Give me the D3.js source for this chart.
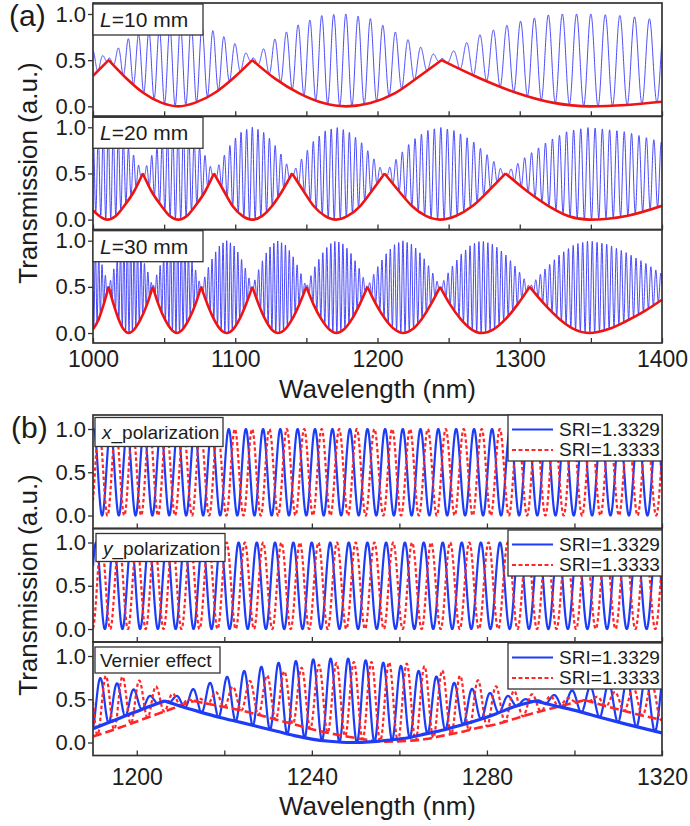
<!DOCTYPE html>
<html>
<head>
<meta charset="utf-8">
<script src="https://cdn.jsdelivr.net/npm/d3@7"></script>
<style>
  html, body { margin: 0; padding: 0; background: #fff; }
  svg { display: block; font-family: Arial, "Liberation Sans", sans-serif; }
</style>
</head>
<body>
<div id="chart"></div>
<script>
// ---------- data ----------
// (a) envelope knots: [wavelength nm, lower envelope, upper envelope]
const envL10 = [
  [1000, 0.33, 0.60], [1011, 0.50, 0.52], [1023, 0.31, 0.72], [1035, 0.15, 0.80],
  [1048, 0.04, 0.84], [1060, 0.00, 0.87], [1072, 0.04, 0.89], [1086, 0.15, 0.81],
  [1099, 0.31, 0.69], [1112, 0.50, 0.52], [1128, 0.30, 0.73], [1145, 0.14, 0.89],
  [1162, 0.035, 0.99], [1178, 0.00, 1.00], [1195, 0.035, 0.95], [1212, 0.14, 0.81],
  [1228, 0.31, 0.66], [1245, 0.50, 0.52], [1271, 0.31, 0.77], [1297, 0.15, 0.91],
  [1323, 0.04, 1.00], [1350, 0.00, 1.00], [1375, 0.015, 0.98], [1400, 0.05, 0.93]
];
const cuspsL10 = [1011, 1112, 1245];

const envL20 = [
  [1000, 0.10, 0.88], [1010, 0.00, 0.97], [1016, 0.04, 0.94], [1022, 0.15, 0.84],
  [1029, 0.31, 0.69], [1035, 0.50, 0.50], [1041, 0.31, 0.69], [1048, 0.15, 0.84],
  [1054, 0.04, 0.93], [1060, 0.00, 0.96], [1066, 0.04, 0.95], [1072, 0.15, 0.85],
  [1079, 0.31, 0.69], [1085, 0.50, 0.50], [1092, 0.31, 0.69], [1098, 0.15, 0.85],
  [1105, 0.04, 0.96], [1112, 0.00, 1.00], [1119, 0.04, 0.96], [1126, 0.15, 0.85],
  [1133, 0.31, 0.69], [1140, 0.50, 0.50], [1148, 0.31, 0.69], [1155, 0.15, 0.85],
  [1163, 0.04, 0.96], [1171, 0.00, 1.00], [1179, 0.04, 0.96], [1188, 0.15, 0.85],
  [1196, 0.31, 0.69], [1205, 0.50, 0.50], [1215, 0.31, 0.69], [1224, 0.15, 0.85],
  [1234, 0.04, 0.96], [1244, 0.00, 1.00], [1255, 0.04, 0.96], [1267, 0.15, 0.85],
  [1278, 0.31, 0.69], [1290, 0.50, 0.50], [1305, 0.31, 0.69], [1320, 0.15, 0.85],
  [1334, 0.04, 0.96], [1349, 0.00, 1.00], [1375, 0.04, 0.95], [1400, 0.15, 0.84]
];
const cuspsL20 = [1035, 1085, 1140, 1205, 1290];

const envL30 = [
  [1000, 0.04, 0.95], [1004, 0.15, 0.85], [1007.5, 0.31, 0.69], [1011, 0.50, 0.50],
  [1014.5, 0.31, 0.69], [1018, 0.15, 0.85], [1021.5, 0.04, 0.96], [1025, 0.00, 1.00],
  [1029, 0.04, 0.96], [1033.5, 0.15, 0.85], [1038, 0.31, 0.69], [1042, 0.50, 0.50],
  [1046, 0.31, 0.69], [1050.5, 0.15, 0.85], [1055, 0.04, 0.96], [1059, 0.00, 1.00],
  [1063, 0.04, 0.96], [1067.5, 0.15, 0.85], [1072, 0.31, 0.69], [1076, 0.50, 0.50],
  [1080.5, 0.31, 0.69], [1085, 0.15, 0.85], [1089.5, 0.04, 0.96], [1094, 0.00, 1.00],
  [1098.5, 0.04, 0.96], [1103, 0.15, 0.85], [1107.5, 0.31, 0.69], [1112, 0.50, 0.50],
  [1116.5, 0.31, 0.69], [1121, 0.15, 0.85], [1125.5, 0.04, 0.96], [1130, 0.00, 1.00],
  [1135, 0.04, 0.96], [1140, 0.15, 0.85], [1145, 0.31, 0.69], [1150, 0.50, 0.50],
  [1155, 0.31, 0.69], [1160.5, 0.15, 0.85], [1166, 0.04, 0.96], [1171, 0.00, 1.00],
  [1176.5, 0.04, 0.96], [1182, 0.15, 0.85], [1187.5, 0.31, 0.69], [1193, 0.50, 0.50],
  [1199, 0.31, 0.69], [1205.5, 0.15, 0.85], [1212, 0.04, 0.96], [1218, 0.00, 1.00],
  [1224.5, 0.04, 0.96], [1231, 0.15, 0.85], [1237.5, 0.31, 0.69], [1244, 0.50, 0.50],
  [1251, 0.31, 0.69], [1258.5, 0.15, 0.85], [1266, 0.04, 0.96], [1273, 0.00, 1.00],
  [1281.5, 0.04, 0.96], [1290, 0.15, 0.85], [1298.5, 0.31, 0.69], [1307, 0.50, 0.50],
  [1317.5, 0.31, 0.69], [1328, 0.15, 0.85], [1338.5, 0.04, 0.96], [1349, 0.00, 1.00],
  [1362, 0.04, 0.96], [1375, 0.13, 0.87], [1388, 0.24, 0.76], [1400, 0.36, 0.64]
];
const cuspsL30 = [1011, 1042, 1076, 1112, 1150, 1193, 1244, 1307];

// fringe period (nm) at 1000 and 1400 nm, and one fringe maximum
const periodL10 = [6.95, 10.56], peakL10 = 1024.8;
const periodL20 = [3.48, 5.28], peakL20 = 1112;
const periodL30 = [2.32, 3.52], peakL30 = 1094;
const lengthLabels = ["10", "20", "30"];

// (b) fringe period (nm) at 1190 and 1320 nm, and one fringe maximum
const envPol = [[1190, 0, 1], [1320, 0, 1]];
const periodX = [3.8, 4.25], peakX = 1248.7;
const periodY = [4.0, 4.55], peakY = 1244.2;
const redShift = [1.2, 2.0];            // SRI=1.3333 fringe shift (nm) at 1190 and 1320
const sriLabels = ["SRI=1.3329", "SRI=1.3333"];

// Vernier: [wavelength nm, lower envelope, upper envelope]
const envVernBlue = [
  [1190, 0.16, 0.77], [1194, 0.24, 0.71], [1198, 0.32, 0.64], [1202, 0.40, 0.56],
  [1206.4, 0.48, 0.48], [1210, 0.42, 0.56], [1214, 0.36, 0.64], [1219, 0.29, 0.73],
  [1224, 0.23, 0.82], [1228, 0.18, 0.87], [1232, 0.13, 0.92], [1236, 0.08, 0.94],
  [1240, 0.04, 0.96], [1244, 0.015, 0.97], [1249, 0.00, 0.97], [1254, 0.01, 0.94],
  [1258, 0.03, 0.91], [1262, 0.055, 0.87], [1266, 0.10, 0.80], [1270, 0.145, 0.74],
  [1274, 0.20, 0.66], [1278, 0.26, 0.60], [1282, 0.33, 0.56], [1286, 0.41, 0.53],
  [1291, 0.48, 0.48], [1296, 0.42, 0.56], [1301, 0.36, 0.62], [1306, 0.29, 0.67],
  [1312, 0.21, 0.73], [1320, 0.11, 0.78]
];
const cuspsVernBlue = [1206.4, 1291];
const envVernRed = [
  [1190, 0.07, 0.77], [1196, 0.17, 0.77], [1202, 0.28, 0.70], [1208, 0.39, 0.57],
  [1213, 0.48, 0.48], [1218, 0.43, 0.58], [1224, 0.37, 0.68], [1230, 0.29, 0.78],
  [1236, 0.21, 0.85], [1242, 0.13, 0.90], [1248, 0.07, 0.93], [1253, 0.03, 0.93],
  [1257, 0.01, 0.93], [1262, 0.02, 0.91], [1266, 0.04, 0.88], [1270, 0.08, 0.83],
  [1274, 0.12, 0.77], [1278, 0.17, 0.72], [1282, 0.21, 0.65], [1286, 0.27, 0.60],
  [1290, 0.33, 0.56], [1296, 0.41, 0.53], [1302.4, 0.49, 0.49], [1308, 0.41, 0.57],
  [1314, 0.33, 0.64], [1320, 0.26, 0.70]
];
const cuspsVernRed = [1213, 1302.4];
const periodVern = [3.8, 4.25], peakVernBlue = 1244.3, peakVernRed = 1245.6;

// ticks
const aTicks = [1000, 1050, 1100, 1150, 1200, 1250, 1300, 1350, 1400];
const aTickLabels = [1000, 1100, 1200, 1300, 1400];
const bTicks = [1200, 1220, 1240, 1260, 1280, 1300, 1320];
const bTickLabels = [1200, 1240, 1280, 1320];
const yTicks = [0, 0.5, 1.0];

// ---------- drawing ----------
const W = 690, H = 826, X0 = 93, X1 = 662;
const ink = "#1c1c1c", frameCol = "#333";
const blueA = "#4040fb", redA = "#ee1414";
const blueB = "#1e3cf5", redB = "#ff2626";

const svg = d3.select("#chart").append("svg").attr("width", W).attr("height", H);
const defs = svg.append("defs");

const xA = d3.scaleLinear().domain([1000, 1400]).range([X0, X1]);
const xB = d3.scaleLinear().domain([1190, 1320]).range([X0, X1]);
const wlA = d3.range(4001).map(i => 1000 + i * 0.1);
const wlB = d3.range(3251).map(i => 1190 + i * 0.04);

// cumulative fringe count along the wavelength axis
function cycleScale(wl, period) {
  const P = d3.scaleLinear().domain([wl[0], wl[wl.length - 1]]).range(period);
  const cyc = [0];
  for (let i = 1; i < wl.length; i++) {
    cyc.push(cyc[i - 1] + (wl[i] - wl[i - 1]) / P((wl[i] + wl[i - 1]) / 2));
  }
  return d3.scaleLinear().domain(wl).range(cyc);
}

// fast fringes running between the lower and upper envelopes
function fringeCurve(wl, env, period, peak, cusps, shift) {
  const cyc = cycleScale(wl, period);
  const lo = d3.scaleLinear().domain(env.map(d => d[0])).range(env.map(d => d[1]));
  const hi = d3.scaleLinear().domain(env.map(d => d[0])).range(env.map(d => d[2]));
  const sh = shift ? d3.scaleLinear().domain([wl[0], wl[wl.length - 1]]).range(shift) : () => 0;
  const c0 = cyc(peak);
  return wl.map(w => {
    const u = w - sh(w);
    const flips = cusps.filter(c => (c - peak) * (c - u) < 0).length;
    const ph = 2 * Math.PI * (cyc(u) - c0) + Math.PI * flips;
    const l = lo(w), h = hi(w);
    return [w, l + (h - l) * (1 + Math.cos(ph)) / 2];
  });
}

let clipCount = 0;
function makePanel(top, h, x, yDom) {
  const y = d3.scaleLinear().domain(yDom).range([top + h, top]);
  const id = "clip" + (clipCount++);
  defs.append("clipPath").attr("id", id).append("rect")
    .attr("x", X0).attr("y", top).attr("width", X1 - X0).attr("height", h);
  const plot = svg.append("g").attr("clip-path", `url(#${id})`);
  return { top, h, x, y, plot };
}

function drawLine(p, data, color, width, dash) {
  p.plot.append("path").datum(data)
    .attr("fill", "none").attr("stroke", color).attr("stroke-width", width)
    .attr("stroke-dasharray", dash || null).attr("stroke-linejoin", "round")
    .attr("d", d3.line().x(d => p.x(d[0])).y(d => p.y(d[1])));
}

// envelope drawn arch by arch so the cusps stay sharp
function drawEnvelope(p, env, cusps, color, width, dash) {
  const bounds = [env[0][0], ...cusps, env[env.length - 1][0]];
  const segs = d3.pairs(bounds).map(([a, b]) => env.filter(d => d[0] >= a && d[0] <= b));
  const line = d3.line().x(d => p.x(d[0])).y(d => p.y(d[1])).curve(d3.curveMonotoneX);
  p.plot.selectAll(null).data(segs).join("path")
    .attr("fill", "none").attr("stroke", color).attr("stroke-width", width)
    .attr("stroke-dasharray", dash || null).attr("stroke-linecap", "butt")
    .attr("d", line);
}

function axes(p, ticks, labels, pad) {
  const gx = svg.append("g").attr("transform", `translate(0,${p.top + p.h})`)
    .call(d3.axisBottom(p.x).tickValues(ticks).tickSize(-5).tickPadding(pad)
      .tickFormat(v => labels.includes(v) ? v : ""));
  gx.select(".domain").remove();
  gx.attr("font-size", 23).attr("font-family", null);
  gx.selectAll("line").attr("stroke", frameCol).attr("stroke-width", 1.3);
  gx.selectAll("text").attr("fill", ink);

  const gy = svg.append("g").attr("transform", `translate(${X0},0)`)
    .call(d3.axisLeft(p.y).tickValues(yTicks).tickSize(5).tickPadding(2).tickFormat(d3.format(".1f")));
  gy.select(".domain").remove();
  gy.attr("font-size", 22).attr("font-family", null);
  gy.selectAll("line").attr("stroke", frameCol).attr("stroke-width", 1.3);
  gy.selectAll("text").attr("fill", ink);

  svg.append("rect").attr("x", X0).attr("y", p.top).attr("width", X1 - X0).attr("height", p.h)
    .attr("fill", "none").attr("stroke", frameCol).attr("stroke-width", 1.7);
}

function labelBox(x, y, w, h, size, parts, tx, ty) {
  svg.append("rect").attr("x", x).attr("y", y).attr("width", w).attr("height", h)
    .attr("fill", "#fff").attr("stroke", frameCol).attr("stroke-width", 1.3);
  const t = svg.append("text").attr("x", tx).attr("y", ty).attr("font-size", size).attr("fill", ink);
  parts.forEach(([s, italic]) => t.append("tspan").attr("font-style", italic ? "italic" : null).text(s));
}

function legend(top) {
  const x = 508, w = X1 - x;
  svg.append("rect").attr("x", x).attr("y", top).attr("width", w).attr("height", 46)
    .attr("fill", "#fff").attr("stroke", frameCol).attr("stroke-width", 1.3);
  const rows = [[blueB, null, top + 14.5, top + 20.5], [redB, "4,2.5", top + 35, top + 41]];
  rows.forEach(([c, dash, ly, ty], i) => {
    svg.append("line").attr("x1", 512).attr("x2", 553).attr("y1", ly).attr("y2", ly)
      .attr("stroke", c).attr("stroke-width", 2.2).attr("stroke-dasharray", dash);
    svg.append("text").attr("x", 559).attr("y", ty).attr("font-size", 19).attr("fill", ink).text(sriLabels[i]);
  });
}

// ---- panel (a) ----
const aTops = [3, 116.3, 229.7], aH = 113.3, aDom = [-0.108, 1.119];
const aSets = [
  [envL10, cuspsL10, periodL10, peakL10],
  [envL20, cuspsL20, periodL20, peakL20],
  [envL30, cuspsL30, periodL30, peakL30]
];
aSets.forEach(([env, cusps, period, peak], i) => {
  const p = makePanel(aTops[i], aH, xA, aDom);
  drawLine(p, fringeCurve(wlA, env, period, peak, cusps, null), blueA, 0.95);
  drawEnvelope(p, env.map(d => [d[0], d[1]]), cusps, redA, 2.6);
  axes(p, aTicks, i === 2 ? aTickLabels : [], 7.7);
  labelBox(X0, aTops[i] + 1, 110, 31, 21, [["L", true], ["=" + lengthLabels[i] + " mm", false]],
    X0 + 7, aTops[i] + 24);
});

// ---- panel (b) ----
const bTops = [415, 528.5, 642], bH = 113.5, bDom = [-0.150, 1.162];

const pX = makePanel(bTops[0], bH, xB, bDom);
drawLine(pX, fringeCurve(wlB, envPol, periodX, peakX, [], null), blueB, 2.2);
drawLine(pX, fringeCurve(wlB, envPol, periodX, peakX, [], redShift), redB, 2.2, "3.5,2.5");
axes(pX, bTicks, [], 13.2);
labelBox(95, bTops[0] + 2.5, 128, 29, 19, [["x", true], ["_polarization", false]], 102, bTops[0] + 23.5);
legend(bTops[0]);

const pY = makePanel(bTops[1], bH, xB, bDom);
drawLine(pY, fringeCurve(wlB, envPol, periodY, peakY, [], null), blueB, 2.2);
drawLine(pY, fringeCurve(wlB, envPol, periodY, peakY, [], redShift), redB, 2.2, "3.5,2.5");
axes(pY, bTicks, [], 13.2);
labelBox(96, bTops[1] + 5, 129, 28, 19, [["y", true], ["_polarization", false]], 103, bTops[1] + 26);
legend(bTops[1] + 1.5);

const pV = makePanel(bTops[2], bH, xB, bDom);
drawLine(pV, fringeCurve(wlB, envVernBlue, periodVern, peakVernBlue, cuspsVernBlue, null), blueB, 2.2);
drawLine(pV, fringeCurve(wlB, envVernRed, periodVern, peakVernRed, cuspsVernRed, null), redB, 2.2, "3.5,2.5");
drawEnvelope(pV, envVernRed.map(d => [d[0], d[1]]), cuspsVernRed, redB, 2.6, "9,4");
drawEnvelope(pV, envVernBlue.map(d => [d[0], d[1]]), cuspsVernBlue, blueB, 3.2);
axes(pV, bTicks, bTickLabels, 13.2);
labelBox(95, bTops[2] + 5, 125, 26, 19, [["Vernier effect", false]], 100, bTops[2] + 25);
legend(bTops[2] + 1);

// ---- titles ----
svg.append("text").attr("x", 9).attr("y", 26).attr("font-size", 30).attr("fill", ink).text("(a)");
svg.append("text").attr("x", 11).attr("y", 438).attr("font-size", 30).attr("fill", ink).text("(b)");
[[398], [815]].forEach(([yb]) => {
  svg.append("text").attr("x", (X0 + X1) / 2).attr("y", yb).attr("text-anchor", "middle")
    .attr("font-size", 26).attr("fill", ink).text("Wavelength (nm)");
});
[[173], [585]].forEach(([yc]) => {
  svg.append("text").attr("transform", `translate(37,${yc}) rotate(-90)`).attr("text-anchor", "middle")
    .attr("font-size", 26).attr("fill", ink).text("Transmission (a.u.)");
});
</script>
</body>
</html>
